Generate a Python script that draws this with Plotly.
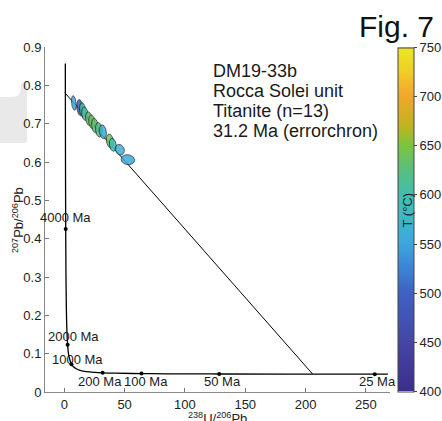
import plotly.graph_objects as go
from plotly.colors import sample_colorscale
import numpy as np

# ---------------- data ----------------
# Concordia (Tera-Wasserburg) nodes: ages (Ma) with 238U/206Pb and 207Pb/206Pb
conc_age = [5020, 4500, 4000, 3500, 3000, 2500, 2000, 1500, 1000, 800, 600, 500, 400,
            300, 250, 200, 150, 100, 75, 50, 35, 25, 24]
conc_x = [0.848, 0.990, 1.163, 1.387, 1.687, 2.111, 2.749, 3.817, 5.959, 7.568, 10.252,
          12.40, 15.621, 20.992, 25.289, 31.73, 42.48, 63.97, 85.45, 128.4, 183.7, 257.4, 268.2]
conc_y = [0.857, 0.597, 0.425, 0.306, 0.2226, 0.1643, 0.1230, 0.0936, 0.0725, 0.0658, 0.0599,
          0.0572, 0.0547, 0.0523, 0.0512, 0.0501, 0.04905, 0.04802, 0.04751, 0.04702, 0.04672,
          0.04652, 0.0465]

# labelled concordia ticks
tick_age_labels = ["4000 Ma", "2000 Ma", "1000 Ma", "200 Ma", "100 Ma", "50 Ma", "25 Ma"]
tick_x = [1.163, 2.749, 5.959, 31.73, 63.97, 128.4, 257.4]
tick_y = [0.425, 0.1230, 0.0725, 0.0501, 0.04802, 0.04702, 0.04652]
label_x = [1.2, 7.6, 11.2, 29.4, 67.6, 131.0, 259.5]
label_y = [0.454, 0.144, 0.086, 0.0287, 0.0287, 0.0287, 0.0287]

# errorchron regression line (31.2 Ma lower intercept)
reg_x = [0.4, 205.8]
reg_y = [0.781, 0.047]

# titanite analyses (n=13): centres, half-errors, error correlation, temperature
ell_x = [7.9, 12.9, 15.1, 17.0, 20.3, 22.8, 25.3, 28.6, 31.9, 37.8, 40.2, 46.0, 52.7]
ell_y = [0.754, 0.742, 0.736, 0.726, 0.713, 0.705, 0.695, 0.684, 0.679, 0.655, 0.645, 0.632, 0.606]
ell_sx = [2.0, 2.6, 2.5, 2.6, 2.7, 2.6, 2.7, 2.8, 3.0, 3.0, 2.9, 3.8, 5.6]
ell_sy = [0.019, 0.021, 0.019, 0.018, 0.018, 0.018, 0.019, 0.019, 0.018, 0.018, 0.017, 0.014, 0.013]
ell_rho = [-0.3, -0.2, -0.2, -0.2, -0.2, -0.2, -0.2, -0.2, -0.2, -0.2, -0.2, -0.15, -0.1]
ell_T = [556, 485, 605, 598, 632, 640, 628, 622, 560, 635, 600, 562, 556]

T_min, T_max = 400, 750
cbar_ticks = [400, 450, 500, 550, 600, 650, 700, 750]

cscale = [
    [0.000, "#3c2e8c"],
    [0.143, "#4546a6"],
    [0.286, "#3e62c3"],
    [0.371, "#3b8bd8"],
    [0.429, "#3ea6de"],
    [0.500, "#3cb8c8"],
    [0.571, "#40bfae"],
    [0.643, "#58bf7e"],
    [0.714, "#7cc43c"],
    [0.771, "#c0b41e"],
    [0.857, "#f2a62c"],
    [0.929, "#f0cd26"],
    [1.000, "#e8ea22"],
]

FONT = "Liberation Sans, Arial, sans-serif"

fig = go.Figure()

# gray decoration at left edge (page artefact)
L, T_, W_, H_ = 45, 47, 345, 345
def px(xp):
    return (xp - L) / W_
def py(yp):
    return (T_ + H_ - yp) / H_
path = (f"M {px(0)},{py(97)} L {px(12)},{py(97)} Q {px(21)},{py(97)} {px(21)},{py(88)} "
        f"L {px(21)},{py(85)} Q {px(21)},{py(82)} {px(23)},{py(82)} L {px(27)},{py(82)} "
        f"L {px(27)},{py(140)} Q {px(27)},{py(143)} {px(24)},{py(143)} L {px(0)},{py(143)} Z")
fig.add_shape(type="path", path=path, xref="paper", yref="paper",
              fillcolor="#e9e9e9", line=dict(width=0), layer="below")

# concordia
fig.add_trace(go.Scatter(x=conc_x, y=conc_y, mode="lines", line=dict(color="black", width=1.3),
                         line_shape="spline", hoverinfo="skip", showlegend=False))
fig.add_trace(go.Scatter(x=tick_x, y=tick_y, mode="markers",
                         marker=dict(color="black", size=4), showlegend=False))
# regression
fig.add_trace(go.Scatter(x=reg_x, y=reg_y, mode="lines", line=dict(color="black", width=1),
                         showlegend=False))

# ellipses
t = np.linspace(0, 2 * np.pi, 60)
fills = sample_colorscale(cscale, [(v - T_min) / (T_max - T_min) for v in ell_T])
for cx, cy, sx, sy, r, fc in zip(ell_x, ell_y, ell_sx, ell_sy, ell_rho, fills):
    ex = cx + sx * np.cos(t)
    ey = cy + sy * (r * np.cos(t) + np.sqrt(1 - r * r) * np.sin(t))
    fig.add_trace(go.Scatter(x=ex, y=ey, mode="lines", fill="toself", fillcolor=fc,
                             opacity=0.85, line=dict(color="#1a1a1a", width=0.8),
                             showlegend=False, hoverinfo="skip"))

# colourbar carrier
fig.add_trace(go.Scatter(
    x=ell_x, y=ell_y, mode="markers", opacity=0, showlegend=False, hoverinfo="skip",
    marker=dict(color=ell_T, colorscale=cscale, cmin=T_min, cmax=T_max, size=1,
                showscale=True,
                colorbar=dict(x=px(398), xanchor="left", y=0.5, yanchor="middle",
                              len=344 / 345, lenmode="fraction", thickness=16,
                              outlinewidth=1, outlinecolor="#444", xpad=0, ypad=0,
                              ticks="outside", ticklen=3, tickcolor="#444",
                              tickvals=cbar_ticks,
                              tickfont=dict(family=FONT, size=13, color="#222")))))

anns = []
for lab, lx, ly in zip(tick_age_labels, label_x, label_y):
    anns.append(dict(x=lx, y=ly, xref="x", yref="y", text=lab, showarrow=False,
                     font=dict(family=FONT, size=13, color="#1a1a1a"),
                     xanchor="center", yanchor="middle"))

info_lines = ["DM19-33b", "Rocca Solei unit", "Titanite (n=13)", "31.2 Ma (errorchron)"]
info_base = [71, 91, 111, 131]
for txt, yp in zip(info_lines, info_base):
    anns.append(dict(x=px(211), y=py(yp), xref="paper", yref="paper", text=txt,
                     showarrow=False, xanchor="left", yanchor="middle",
                     font=dict(family=FONT, size=18, color="#1a1a1a")))

anns.append(dict(x=px(436), y=py(27), xref="paper", yref="paper", text="Fig. 7",
                 showarrow=False, xanchor="right", yanchor="middle",
                 font=dict(family=FONT, size=30, color="#111")))
anns.append(dict(x=px(406.5), y=py(210), xref="paper", yref="paper", text="T (°C)",
                 showarrow=False, textangle=-90, xanchor="center", yanchor="middle",
                 font=dict(family=FONT, size=13, color="#222")))
anns.append(dict(x=px(217), y=py(418), xref="paper", yref="paper",
                 text="<sup>238</sup>U/<sup>206</sup>Pb", showarrow=False,
                 xanchor="center", yanchor="middle",
                 font=dict(family=FONT, size=13, color="#222")))
anns.append(dict(x=px(18), y=py(220), xref="paper", yref="paper",
                 text="<sup>207</sup>Pb/<sup>206</sup>Pb", showarrow=False, textangle=-90,
                 xanchor="center", yanchor="middle",
                 font=dict(family=FONT, size=13, color="#222")))

fig.update_layout(
    width=442, height=421,
    margin=dict(l=45, r=52, t=47, b=29, pad=0, autoexpand=False),
    paper_bgcolor="white", plot_bgcolor="white",
    font=dict(family=FONT, size=13, color="#222"),
    annotations=anns,
    xaxis=dict(range=[-16, 270], tickvals=[0, 50, 100, 150, 200, 250], ticks="inside",
               ticklen=4, tickcolor="#777", showline=True, linecolor="#888", linewidth=1,
               showgrid=False, zeroline=False, tickfont=dict(size=13, family=FONT),
               automargin=False),
    yaxis=dict(range=[0, 0.9], dtick=0.1, tick0=0, ticks="inside", ticklen=4,
               tickcolor="#777", showline=True, linecolor="#888", linewidth=1,
               showgrid=False, zeroline=False, tickfont=dict(size=13, family=FONT),
               automargin=False),
)

fig.write_html("out.html")
